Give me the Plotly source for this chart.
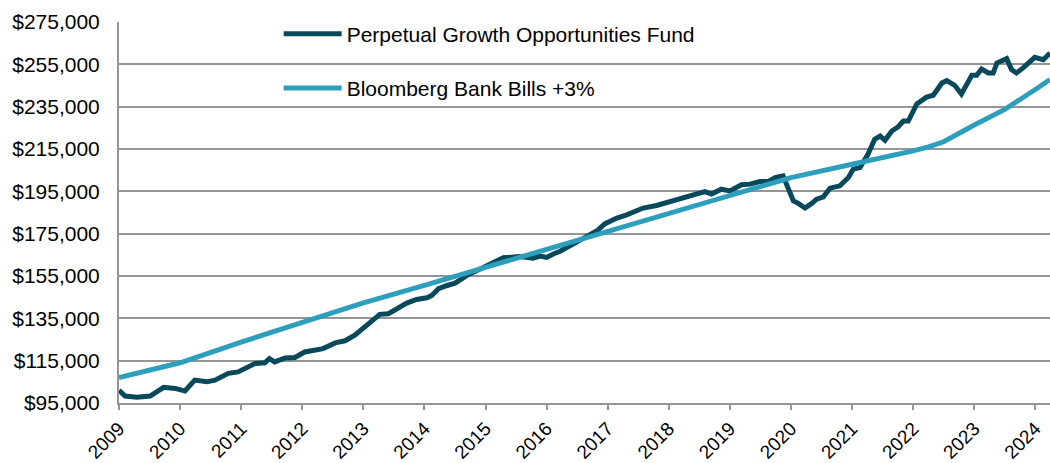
import plotly.graph_objects as go

# Fund series (x as decimal year, value in $)
fund_x = [2009.00, 2009.10, 2009.29, 2009.51, 2009.73, 2009.92, 2010.08, 2010.24, 2010.44, 2010.57,
          2010.79, 2010.95, 2011.23, 2011.39, 2011.46, 2011.55, 2011.72, 2011.88, 2012.04, 2012.21,
          2012.34, 2012.54, 2012.70, 2012.86, 2012.97, 2013.11, 2013.27, 2013.41, 2013.55, 2013.71,
          2013.87, 2014.04, 2014.12, 2014.23, 2014.36, 2014.50, 2014.69, 2014.91, 2015.13, 2015.29,
          2015.56, 2015.78, 2015.89, 2016.00, 2016.11, 2016.22, 2016.44, 2016.65, 2016.84, 2016.95,
          2017.15, 2017.31, 2017.47, 2017.58, 2017.80, 2017.96, 2018.18, 2018.35, 2018.46, 2018.59,
          2018.70, 2018.86, 2019.00, 2019.19, 2019.33, 2019.49, 2019.63, 2019.74, 2019.87, 2020.04,
          2020.12, 2020.23, 2020.34, 2020.42, 2020.53, 2020.64, 2020.80, 2020.94, 2021.02, 2021.13,
          2021.26, 2021.37, 2021.46, 2021.54, 2021.65, 2021.75, 2021.84, 2021.92, 2022.06, 2022.22,
          2022.33, 2022.47, 2022.55, 2022.68, 2022.79, 2022.96, 2023.04, 2023.12, 2023.23, 2023.31,
          2023.37, 2023.53, 2023.61, 2023.69, 2023.80, 2023.99, 2024.13, 2024.24]
fund_values = [101000, 98300, 97700, 98300, 102400, 101900, 100650, 105800, 105000, 105800,
               109000, 109700, 113700, 114000, 116000, 114400, 116300, 116500, 119100, 120300,
               120700, 123400, 124400, 127000, 129700, 132500, 136900, 137200, 139600, 142200,
               143900, 144700, 145800, 149000, 150400, 151600, 155200, 158400, 161500, 163600,
               164200, 163400, 164400, 163800, 165400, 166700, 170200, 173300, 176700, 179600,
               182400, 183900, 185500, 187100, 188300, 189600, 191100, 192400, 193700, 194900,
               193700, 196000, 195200, 198100, 198400, 199600, 199600, 201500, 202300, 190500,
               189300, 187100, 189300, 191300, 192400, 196500, 197600, 201500, 205500, 206200,
               212500, 219600, 221100, 219100, 223500, 225400, 228200, 228200, 236300, 239500,
               240400, 246200, 247300, 245100, 241000, 249800, 249800, 252800, 250900, 250900,
               255600, 257700, 252500, 250900, 253300, 258300, 257200, 260300]

# Benchmark series
bench_x = [2009.00, 2010.00, 2011.00, 2012.00, 2013.00, 2014.00, 2015.00, 2016.00, 2017.00,
           2018.00, 2019.00, 2020.00, 2021.00, 2021.50, 2022.00, 2022.25, 2022.50, 2023.00,
           2023.50, 2024.00, 2024.24]
bench_values = [107000, 114000, 123800, 133300, 142300, 150600, 159100, 167800, 176500,
                185000, 193500, 201500, 207800, 210700, 214100, 216000, 218400, 226300,
                233700, 243100, 247800]

year_ticks = list(range(2009, 2025))
year_labels = [str(y) for y in year_ticks]

series_names = ["Perpetual Growth Opportunities Fund", "Bloomberg Bank Bills +3%"]
FUND_COLOR = "#07485A"
BENCH_COLOR = "#2D9EBC"
GRID = "#959595"
FONT = "Liberation Sans, Arial, sans-serif"

fig = go.Figure()
fig.add_trace(go.Scatter(x=fund_x, y=fund_values, mode="lines", name=series_names[0],
                         line=dict(color=FUND_COLOR, width=5), legendgroup="a", legendrank=1))
fig.add_trace(go.Scatter(x=bench_x, y=bench_values, mode="lines", name=series_names[1],
                         line=dict(color=BENCH_COLOR, width=5), legendgroup="b", legendrank=2))

fig.update_layout(
    width=1050, height=463,
    margin=dict(l=119, r=0, t=22, b=60),
    plot_bgcolor="white", paper_bgcolor="white",
    font=dict(family=FONT, size=21, color="#000000"),
    showlegend=True,
    legend=dict(x=0.1715, y=1.022, xanchor="left", yanchor="top",
                bgcolor="rgba(0,0,0,0)", font=dict(size=21, family=FONT),
                itemwidth=58, tracegroupgap=24, traceorder="grouped"),
    xaxis=dict(range=[2009, 2024.24], tickmode="array", tickvals=year_ticks, ticktext=year_labels,
               tickangle=-45, ticks="outside", ticklen=5, tickwidth=2, tickcolor=GRID,
               showline=True, linecolor=GRID, linewidth=2, showgrid=False, zeroline=False,
               automargin=False, tickfont=dict(size=19, family=FONT)),
    yaxis=dict(range=[95000, 275000], dtick=20000, tick0=95000, tickprefix="$", tickformat=",.0f",
               showgrid=True, gridcolor=GRID, gridwidth=2, showline=True, linecolor=GRID,
               linewidth=2, zeroline=False, ticks="", automargin=False, ticklabelstandoff=13,
               tickfont=dict(size=21, family=FONT)),
)

fig.write_html("out.html", config={"displayModeBar": False},
               post_script="document.body.style.margin='0';")
